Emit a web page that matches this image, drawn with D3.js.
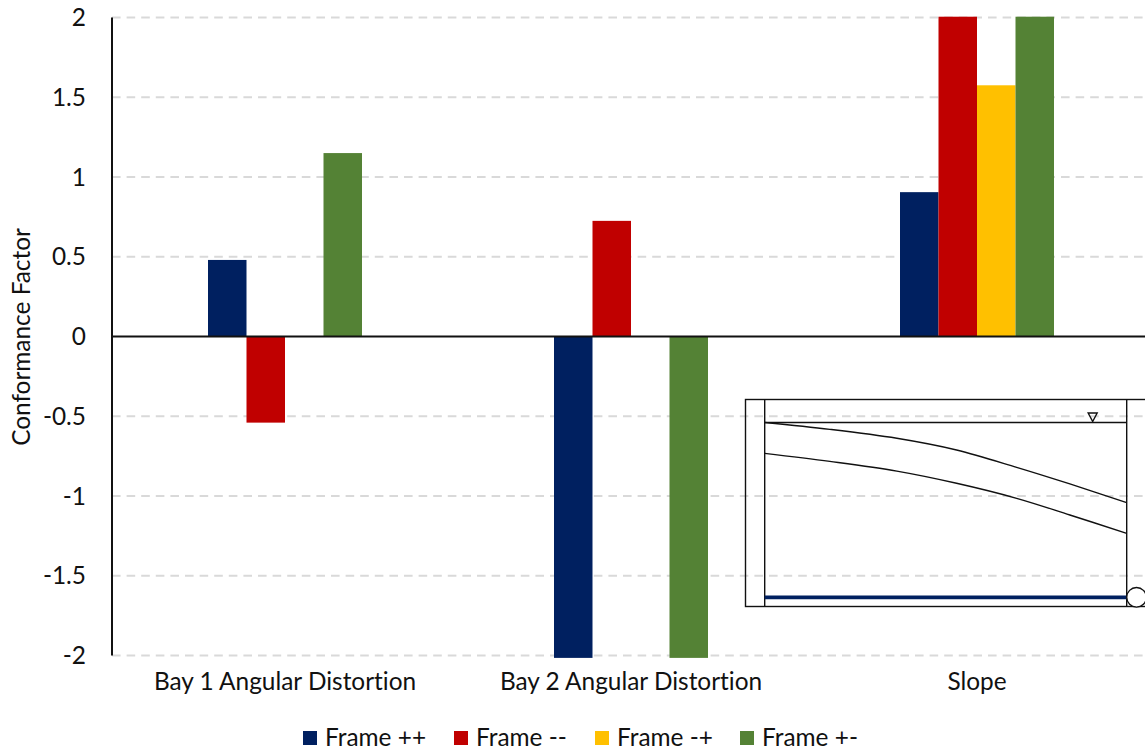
<!DOCTYPE html>
<html><head><meta charset="utf-8">
<style>html,body{margin:0;padding:0;background:#fff;overflow:hidden}svg{display:block}text{font-family:Lato,"Open Sans",sans-serif;fill:#111;font-variant-ligatures:none}</style>
<script src="https://cdn.jsdelivr.net/npm/d3@7"></script></head><body><div id="c"></div>
<script>
const categories=["Bay 1 Angular Distortion","Bay 2 Angular Distortion","Slope"];
const seriesNames=["Frame ++","Frame --","Frame -+","Frame +-"];
const seriesColors=["#002060","#C00000","#FFC000","#548235"];
const framePP=[0.48,-2.015,0.905];
const frameMM=[-0.54,0.725,2.005];
const frameMP=[null,null,1.575];
const framePM=[1.15,-2.015,2.005];
const seriesValues=[framePP,frameMM,frameMP,framePM];
const tickValues=[2,1.5,1,0.5,0,-0.5,-1,-1.5,-2];
const insetX=[0,0.18,0.365,0.53,0.696,0.843,1];
const insetUpper=[0,0.062,0.143,0.249,0.406,0.556,0.725];
const insetLower=[0.279,0.352,0.44,0.55,0.686,0.837,1.003];

const W=1145,H=749;
const svg=d3.select("#c").append("svg").attr("width",W).attr("height",H);
const y=d3.scaleLinear().domain([-2,2]).range([655.5,17.5]);
const x0=d3.scaleBand().domain(categories).range([112,1150]);
const x1=d3.scaleBand().domain(seriesNames).range([0,154]);
const groupOffset=(x0.bandwidth()-154)/2;
const FS=24.4;

svg.append("g").selectAll("line").data(tickValues.filter(d=>d!==0)).join("line")
 .attr("x1",112).attr("x2",W).attr("y1",d=>y(d)).attr("y2",d=>y(d))
 .attr("stroke","#d9d9d9").attr("stroke-width",2).attr("stroke-dasharray","8.6 6");

seriesValues.forEach((vals,s)=>{
 svg.append("g").selectAll("rect").data(vals.map((v,i)=>({v,c:categories[i]})).filter(d=>d.v!==null)).join("rect")
  .attr("x",d=>x0(d.c)+groupOffset+x1(seriesNames[s]))
  .attr("width",x1.bandwidth())
  .attr("y",d=>Math.min(y(d.v),y(0)))
  .attr("height",d=>Math.abs(y(d.v)-y(0)))
  .attr("fill",seriesColors[s]);
});

svg.append("line").attr("x1",111).attr("x2",W).attr("y1",y(0)).attr("y2",y(0)).attr("stroke","#111").attr("stroke-width",2);
svg.append("line").attr("x1",112).attr("x2",112).attr("y1",y(2)).attr("y2",y(-2)).attr("stroke","#111").attr("stroke-width",2);

svg.append("g").selectAll("text").data(tickValues).join("text")
 .attr("x",86).attr("y",d=>y(d)).attr("dy","0.35em").attr("text-anchor","end").attr("font-size",FS).text(d=>d);
svg.append("g").selectAll("text").data(categories).join("text")
 .attr("x",d=>x0(d)+x0.bandwidth()/2).attr("y",689.5).attr("text-anchor","middle").attr("font-size",FS).text(d=>d);
svg.append("text").attr("transform","translate(30,337) rotate(-90)").attr("text-anchor","middle").attr("font-size",FS).text("Conformance Factor");

const legendX=[303,454,595,740];
seriesNames.forEach((n,i)=>{
 svg.append("rect").attr("x",legendX[i]).attr("y",731).attr("width",14).attr("height",14).attr("fill",seriesColors[i]);
 svg.append("text").attr("x",legendX[i]+22).attr("y",745.5).attr("font-size",FS).text(n);
});

// inset
const ix=d3.scaleLinear().domain([0,1]).range([764.7,1126.7]);
const iy=d3.scaleLinear().domain([0,1]).range([422.5,533]);
const inset=svg.append("g").attr("fill","none").attr("stroke","#111").attr("stroke-width",1.4);
inset.append("rect").attr("x",745.5).attr("y",399.5).attr("width",W).attr("height",207);
inset.append("line").attr("x1",ix(0)).attr("x2",ix(0)).attr("y1",399.5).attr("y2",606.5);
inset.append("line").attr("x1",ix(1)).attr("x2",ix(1)).attr("y1",399.5).attr("y2",606.5);
inset.append("line").attr("x1",ix(0)).attr("x2",ix(1)).attr("y1",iy(0)).attr("y2",iy(0));
const ln=d3.line().x((d,i)=>ix(insetX[i])).y(d=>iy(d)).curve(d3.curveCatmullRom.alpha(0.5));
inset.append("path").attr("d",ln(insetUpper));
inset.append("path").attr("d",ln(insetLower));
inset.append("path").attr("d",`M${ix(0.906)-4.5},413H${ix(0.906)+4.5}L${ix(0.906)},421.5Z`);
inset.append("line").attr("x1",ix(0)).attr("x2",ix(1)).attr("y1",597.3).attr("y2",597.3).attr("stroke","#002060").attr("stroke-width",3.8);
inset.append("circle").attr("cx",ix(1)+9.8).attr("cy",597.3).attr("r",9.8).attr("fill","#fff");
</script></body></html>
